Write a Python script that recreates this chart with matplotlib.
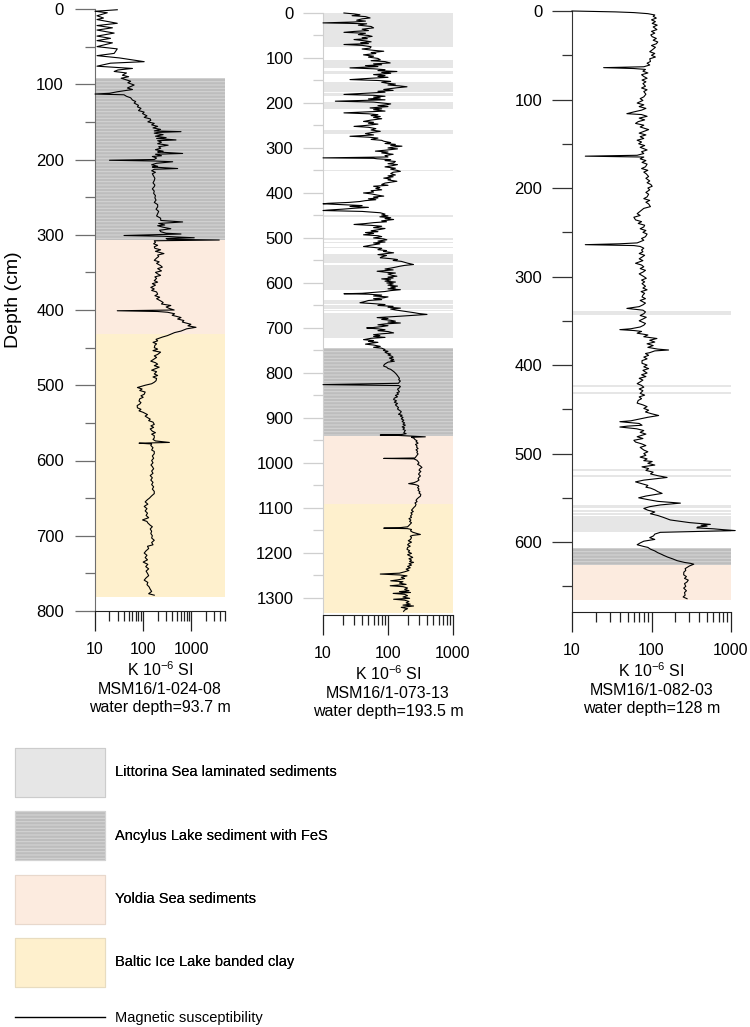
import matplotlib
matplotlib.use("Agg")
import matplotlib.pyplot as plt
from matplotlib.patches import Patch
from matplotlib.lines import Line2D
from matplotlib.ticker import MultipleLocator, LogLocator, NullFormatter, FixedLocator, FixedFormatter

plt.rcParams['font.family'] = ['Liberation Sans', 'DejaVu Sans']
plt.rcParams['mathtext.fontset'] = 'custom'
plt.rcParams['mathtext.rm'] = 'Liberation Sans'
plt.rcParams['mathtext.default'] = 'regular'
plt.rcParams['hatch.linewidth'] = 0.8

# ---- core MSM16/1-024-08: (depth cm, K 10^-6 SI) ----
core_024 = [
    (1, 29), (3, 10), (5, 18), (9, 11), (12, 15), (14, 11), (19, 29), (22, 11), (25, 23),
    (28, 11), (32, 25), (36, 11), (39, 21), (42, 11), (45, 23), (50, 11), (53, 29), (59, 25),
    (62, 11), (65, 32), (70, 105), (72, 21), (76, 11), (79, 60), (81, 30), (83, 25), (85, 45),
    (88, 37), (90, 50), (92, 35), (94, 44), (96, 55), (98, 48), (101, 65), (103, 55), (105, 47),
    (107, 60), (110, 29), (112, 20), (113, 10), (114, 40), (116, 45), (118, 55), (121, 60),
    (123, 70), (125, 65), (128, 80), (130, 76), (132, 90), (135, 80), (137, 105), (139, 97),
    (142, 120), (144, 105), (146, 140), (148, 144), (150, 125), (152, 170), (154, 150),
    (156, 200), (158, 160), (160, 230), (162, 170), (163, 610), (164, 200), (165, 170),
    (167, 260), (169, 180), (171, 300), (172, 190), (174, 480), (175, 200), (177, 240),
    (179, 200), (181, 330), (183, 210), (185, 232), (187, 180), (189, 260), (190, 200),
    (192, 660), (193, 180), (195, 240), (196, 155), (198, 190), (200, 170), (201, 20),
    (202, 170), (203, 410), (205, 190), (207, 150), (209, 200), (210, 155), (212, 520),
    (213, 170), (215, 150), (217, 180), (219, 155), (222, 165), (225, 175), (228, 170),
    (231, 160), (234, 175), (236, 170), (239, 155), (242, 170), (245, 165), (248, 180),
    (251, 175), (254, 185), (257, 170), (260, 200), (263, 200), (266, 185), (269, 210),
    (272, 200), (275, 190), (278, 230), (281, 232), (283, 660), (285, 210), (287, 280),
    (288, 200), (290, 260), (292, 375), (294, 220), (296, 232), (298, 300), (299, 610),
    (301, 40), (302, 270), (303, 500), (304, 1150), (305, 300), (306, 320), (307, 3800),
    (308, 170), (310, 180), (312, 165), (314, 200), (316, 170), (318, 175), (320, 230),
    (322, 180), (325, 270), (327, 200), (329, 210), (331, 190), (334, 170), (336, 215),
    (338, 190), (341, 230), (343, 250), (345, 200), (348, 240), (350, 180), (352, 200),
    (354, 230), (356, 175), (358, 190), (361, 170), (363, 200), (365, 155), (367, 180),
    (370, 144), (372, 170), (374, 150), (376, 190), (379, 200), (381, 175), (383, 220),
    (385, 190), (388, 232), (390, 260), (392, 240), (394, 375), (396, 300), (398, 350),
    (400, 440), (401, 29), (402, 200), (403, 320), (405, 450), (407, 400), (410, 610),
    (412, 520), (414, 700), (416, 650), (419, 980), (421, 850), (423, 1250), (425, 800),
    (428, 610), (430, 450), (432, 380), (434, 320), (436, 250), (439, 185), (441, 200),
    (443, 160), (445, 190), (447, 175), (450, 170), (452, 200), (454, 160), (456, 230),
    (459, 200), (461, 170), (463, 190), (466, 160), (468, 144), (470, 180), (472, 200),
    (474, 170), (476, 215), (478, 180), (480, 150), (482, 190), (485, 170), (487, 200),
    (489, 160), (491, 190), (494, 185), (496, 170), (498, 150), (500, 110), (503, 76),
    (505, 95), (507, 85), (509, 110), (512, 105), (514, 90), (516, 100), (518, 85), (521, 82),
    (523, 90), (525, 85), (527, 75), (530, 76), (532, 90), (534, 82), (536, 100), (539, 123),
    (541, 110), (543, 123), (545, 140), (547, 130), (549, 160), (552, 170), (554, 145),
    (556, 165), (558, 140), (561, 155), (563, 180), (565, 150), (567, 170), (570, 170),
    (572, 160), (574, 180), (576, 350), (577, 82), (578, 150), (580, 144), (583, 160),
    (586, 150), (588, 170), (591, 170), (594, 155), (597, 165), (600, 150), (603, 160),
    (606, 145), (608, 155), (611, 165), (614, 150), (617, 160), (620, 140), (623, 155),
    (626, 144), (629, 160), (632, 150), (635, 165), (638, 155), (641, 170), (644, 170),
    (647, 150), (650, 135), (652, 123), (655, 110), (658, 125), (661, 105), (664, 120),
    (667, 110), (670, 123), (673, 115), (676, 130), (679, 97), (681, 120), (683, 125),
    (686, 140), (688, 155), (691, 140), (694, 150), (697, 144), (700, 155), (703, 150),
    (706, 170), (709, 150), (712, 160), (714, 123), (717, 130), (720, 115), (723, 105),
    (726, 120), (729, 110), (732, 123), (735, 100), (738, 125), (741, 113), (744, 130),
    (747, 115), (750, 123), (753, 130), (756, 115), (759, 105), (762, 125), (765, 120),
    (768, 133), (771, 140), (774, 150), (777, 130), (779, 170),
]
ancylus_024 = [(92, 307)]
yoldia_024 = [(307, 432)]
baltic_024 = [(432, 782)]

# ---- core MSM16/1-073-13 ----
core_073 = [
    (0, 21), (2, 30), (4, 37), (6, 28), (8, 45), (11, 53), (13, 40), (16, 33), (18, 45),
    (20, 30), (22, 10), (23, 25), (24, 47), (27, 35), (30, 55), (33, 60), (36, 40), (39, 50),
    (41, 30), (43, 21), (45, 45), (48, 35), (50, 50), (52, 57), (55, 40), (57, 48), (59, 30),
    (62, 45), (64, 55), (66, 38), (68, 50), (70, 21), (72, 40), (75, 55), (78, 53), (80, 40),
    (83, 60), (85, 86), (88, 55), (90, 65), (93, 42), (96, 60), (98, 50), (101, 70), (104, 76),
    (106, 55), (108, 90), (111, 108), (113, 60), (115, 80), (117, 45), (119, 70), (122, 26),
    (124, 60), (126, 90), (128, 70), (130, 137), (132, 80), (134, 110), (137, 60), (139, 90),
    (141, 70), (143, 100), (145, 55), (148, 26), (150, 70), (152, 110), (154, 80), (156, 96),
    (158, 130), (160, 100), (162, 150), (164, 196), (166, 140), (168, 110), (170, 86),
    (172, 120), (174, 70), (176, 90), (178, 50), (181, 21), (183, 60), (185, 90), (187, 60),
    (189, 76), (191, 50), (193, 90), (196, 15.5), (198, 60), (200, 80), (202, 110), (204, 96),
    (206, 70), (208, 100), (211, 53), (213, 80), (215, 60), (218, 90), (220, 45), (222, 21),
    (224, 50), (226, 70), (228, 55), (230, 76), (232, 60), (235, 80), (238, 55), (241, 42),
    (243, 60), (245, 50), (247, 70), (250, 45), (252, 30), (254, 50), (257, 65), (260, 55),
    (263, 76), (265, 60), (268, 45), (271, 60), (274, 26), (276, 50), (278, 70), (281, 55),
    (283, 80), (285, 86), (288, 110), (290, 90), (292, 130), (294, 110), (296, 164), (298, 120),
    (300, 100), (302, 140), (305, 90), (307, 64), (309, 100), (311, 80), (314, 120), (317, 90),
    (320, 100), (322, 10), (323, 60), (324, 68), (326, 110), (328, 90), (330, 130), (333, 122),
    (335, 100), (337, 140), (340, 110), (342, 90), (345, 130), (347, 110), (350, 140),
    (352, 155), (354, 120), (357, 110), (360, 130), (362, 100), (364, 120), (367, 86),
    (369, 110), (371, 100), (374, 137), (376, 110), (378, 90), (381, 80), (383, 100), (385, 60),
    (388, 75), (390, 65), (393, 80), (395, 55), (398, 60), (400, 42), (402, 55), (405, 70),
    (407, 86), (409, 60), (411, 70), (413, 50), (415, 65), (417, 45), (419, 37), (421, 25),
    (423, 12), (424, 10), (426, 20), (428, 40), (430, 26), (432, 50), (434, 30), (436, 20),
    (438, 12), (439, 10), (441, 40), (443, 60), (444, 76), (447, 90), (449, 80), (451, 100),
    (453, 75), (455, 110), (457, 90), (459, 122), (462, 80), (464, 95), (466, 60), (468, 45),
    (470, 30), (472, 55), (474, 80), (477, 60), (479, 90), (481, 76), (484, 55), (486, 70),
    (488, 45), (490, 60), (493, 42), (495, 70), (497, 80), (500, 60), (502, 85), (504, 96),
    (507, 70), (509, 90), (511, 60), (513, 75), (516, 55), (519, 42), (521, 60), (523, 80),
    (526, 70), (528, 95), (530, 85), (533, 122), (535, 90), (537, 70), (539, 95), (542, 80),
    (544, 76), (546, 110), (548, 140), (550, 120), (552, 160), (554, 180), (556, 200),
    (559, 247), (561, 180), (563, 150), (565, 130), (567, 110), (569, 90), (571, 120),
    (574, 68), (576, 90), (578, 130), (580, 100), (583, 115), (585, 137), (587, 100),
    (589, 120), (591, 80), (593, 110), (596, 90), (598, 130), (600, 96), (602, 120),
    (605, 100), (607, 140), (609, 110), (611, 130), (613, 100), (615, 155), (617, 110),
    (619, 90), (621, 60), (623, 40), (624, 21), (625, 50), (627, 80), (629, 60), (631, 100),
    (633, 86), (635, 60), (637, 80), (639, 50), (641, 45), (644, 37), (646, 60), (648, 90),
    (650, 70), (652, 120), (654, 100), (656, 155), (658, 110), (660, 130), (662, 160),
    (664, 200), (666, 250), (668, 300), (670, 398), (672, 250), (674, 150), (676, 90),
    (677, 68), (679, 100), (681, 80), (683, 110), (685, 130), (687, 100), (689, 155),
    (691, 90), (693, 70), (695, 100), (697, 80), (699, 60), (700, 47), (702, 70), (704, 90),
    (706, 70), (708, 100), (711, 122), (713, 80), (715, 60), (717, 75), (719, 60), (721, 90),
    (723, 55), (726, 42), (728, 60), (730, 50), (732, 70), (734, 55), (736, 45), (738, 60),
    (741, 76), (743, 60), (745, 80), (748, 90), (750, 85), (752, 100), (754, 90), (756, 96),
    (758, 110), (760, 100), (763, 115), (765, 120), (767, 105), (770, 122), (772, 110),
    (774, 125), (776, 100), (778, 95), (780, 90), (783, 86), (785, 86), (787, 95), (790, 100),
    (792, 110), (794, 115), (796, 120), (798, 125), (800, 129), (803, 135), (806, 140),
    (809, 145), (812, 150), (815, 146), (818, 155), (820, 150), (823, 145), (826, 10),
    (828, 146), (830, 155), (833, 150), (836, 140), (839, 145), (842, 150), (844, 137),
    (847, 145), (850, 130), (853, 140), (856, 125), (859, 122), (862, 135), (865, 125),
    (868, 140), (871, 130), (874, 137), (877, 145), (880, 140), (883, 150), (886, 160),
    (889, 155), (892, 145), (894, 165), (896, 155), (899, 170), (902, 160), (905, 175),
    (908, 165), (911, 180), (914, 170), (916, 185), (918, 174), (920, 165), (922, 180),
    (925, 170), (928, 185), (930, 180), (933, 175), (935, 190), (937, 160), (938, 76),
    (939, 150), (940, 200), (942, 375), (943, 230), (945, 250), (948, 260), (951, 280),
    (953, 270), (956, 290), (959, 265), (962, 280), (965, 275), (968, 290), (971, 270),
    (974, 285), (977, 278), (980, 290), (983, 280), (986, 270), (989, 260), (990, 86),
    (991, 250), (994, 278), (997, 290), (1000, 300), (1003, 285), (1006, 310), (1010, 333),
    (1013, 310), (1016, 300), (1019, 320), (1022, 305), (1025, 295), (1029, 315), (1032, 300),
    (1035, 290), (1038, 300), (1041, 280), (1044, 250), (1046, 208), (1048, 260), (1050, 290),
    (1052, 298), (1055, 285), (1058, 300), (1061, 290), (1064, 310), (1067, 300), (1070, 320),
    (1074, 315), (1077, 295), (1080, 280), (1083, 270), (1086, 280), (1089, 260), (1092, 270),
    (1096, 263), (1099, 250), (1102, 240), (1105, 230), (1108, 245), (1111, 225), (1114, 235),
    (1118, 222), (1121, 230), (1124, 210), (1127, 225), (1130, 215), (1133, 230), (1136, 220),
    (1139, 210), (1142, 200), (1144, 150), (1145, 86), (1146, 200), (1148, 230), (1151, 222),
    (1154, 240), (1157, 280), (1159, 315), (1161, 240), (1163, 220), (1166, 230), (1170, 222),
    (1173, 205), (1176, 230), (1179, 210), (1182, 200), (1185, 220), (1188, 200), (1192, 196),
    (1195, 215), (1198, 205), (1201, 230), (1204, 200), (1207, 220), (1210, 240), (1213, 210),
    (1216, 230), (1219, 215), (1221, 247), (1224, 210), (1227, 230), (1230, 200), (1233, 220),
    (1236, 190), (1239, 210), (1242, 180), (1245, 150), (1247, 76), (1249, 150), (1251, 196),
    (1254, 160), (1257, 180), (1260, 140), (1262, 110), (1264, 170), (1267, 150), (1270, 190),
    (1273, 108), (1275, 170), (1278, 200), (1281, 180), (1284, 210), (1286, 150), (1288, 222),
    (1290, 120), (1292, 180), (1295, 200), (1298, 170), (1301, 215), (1303, 122), (1305, 180),
    (1308, 210), (1311, 190), (1314, 220), (1316, 170), (1318, 247), (1321, 160), (1324, 200),
    (1327, 180), (1330, 174),
]
littorina_073 = [(0, 75), (104, 122), (129, 136), (154, 175), (178, 184), (197, 214),
                 (260, 269), (288, 290), (350, 352), (449, 453), (500, 504), (510, 512),
                 (521, 523), (536, 555), (560, 616), (638, 646), (650, 657), (659, 663),
                 (666, 723)]
ancylus_073 = [(744, 941)]
yoldia_073 = [(941, 1091)]
baltic_073 = [(1091, 1333)]

# ---- core MSM16/1-082-03 ----
core_082 = [
    (0, 10), (0.5, 20), (1, 35), (1.8, 60), (3, 90), (4.5, 110), (6, 105), (8, 115), (10, 100),
    (12, 112), (14, 102), (16, 118), (18, 105), (21, 117), (23, 100), (25, 110), (27, 98),
    (29, 102), (31, 115), (33, 105), (35, 120), (37, 115), (39, 100), (41, 112), (44, 102),
    (46, 95), (48, 110), (50, 100), (52, 112), (54, 95), (57, 97), (59, 88), (61, 95), (63, 80),
    (64, 25), (65, 60), (66, 84), (68, 78), (70, 90), (72, 75), (74, 80), (76, 88), (78, 76),
    (80, 85), (82, 78), (85, 84), (87, 75), (89, 88), (91, 80), (94, 85), (97, 80), (99, 72),
    (101, 78), (104, 66), (106, 80), (108, 70), (110, 85), (112, 75), (114, 60), (116, 49),
    (117, 75), (119, 88), (121, 70), (123, 82), (125, 68), (127, 63), (129, 80), (131, 72),
    (134, 92), (136, 80), (138, 70), (140, 85), (142, 72), (144, 80), (146, 66), (148, 75),
    (150, 69), (152, 82), (154, 72), (157, 88), (159, 75), (161, 80), (163, 66), (164, 14.7),
    (165, 80), (167, 72), (169, 85), (171, 76), (173, 88), (176, 84), (178, 75), (180, 90),
    (182, 80), (184, 86), (187, 92), (189, 85), (192, 95), (194, 88), (196, 98), (198, 102),
    (200, 90), (202, 95), (205, 85), (207, 92), (210, 88), (212, 80), (214, 95), (216, 85),
    (218, 92), (221, 97), (223, 80), (225, 75), (227, 70), (229, 66), (231, 72), (233, 60),
    (236, 63), (238, 75), (240, 68), (242, 82), (244, 80), (246, 72), (248, 85), (250, 78),
    (252, 88), (255, 84), (257, 75), (259, 80), (262, 66), (263, 40), (264, 14.7), (265, 60),
    (266, 72), (268, 80), (270, 75), (272, 78), (274, 70), (276, 82), (278, 76), (280, 70),
    (282, 78), (285, 63), (287, 75), (289, 80), (291, 72), (293, 84), (295, 78), (297, 70),
    (300, 80), (302, 86), (304, 75), (306, 82), (308, 76), (311, 84), (313, 78), (315, 88),
    (317, 74), (319, 82), (321, 78), (323, 76), (325, 84), (327, 72), (330, 84), (332, 78),
    (334, 70), (336, 49), (338, 78), (340, 84), (342, 80), (344, 72), (346, 86), (348, 78),
    (350, 70), (353, 84), (355, 80), (357, 72), (359, 55), (360, 40), (361, 60), (362, 75),
    (364, 66), (366, 90), (368, 80), (370, 117), (372, 95), (374, 110), (376, 88), (378, 105),
    (380, 90), (382, 120), (383, 164), (384, 110), (386, 95), (387, 84), (389, 92), (391, 80),
    (393, 88), (395, 76), (398, 76), (400, 88), (402, 80), (404, 92), (406, 78), (409, 88),
    (411, 75), (413, 85), (415, 70), (417, 78), (419, 72), (421, 66), (423, 75), (425, 80),
    (427, 70), (429, 78), (432, 72), (434, 82), (436, 70), (438, 75), (440, 68), (443, 66),
    (445, 78), (447, 88), (449, 80), (451, 92), (453, 84), (455, 100), (457, 123), (459, 90),
    (461, 70), (463, 55), (464, 40), (466, 70), (468, 76), (469, 50), (470, 40), (472, 65),
    (474, 80), (476, 72), (478, 85), (481, 66), (483, 78), (485, 60), (487, 63), (489, 75),
    (491, 85), (493, 72), (496, 80), (498, 90), (500, 80), (502, 85), (504, 72), (506, 88),
    (508, 80), (509, 102), (511, 90), (513, 110), (515, 76), (517, 92), (519, 85), (521, 105),
    (523, 97), (525, 120), (527, 157), (529, 100), (530, 80), (532, 63), (534, 75), (536, 90),
    (538, 85), (539, 97), (541, 110), (543, 120), (545, 136), (547, 100), (548, 85), (550, 69),
    (552, 90), (554, 120), (556, 231), (558, 130), (560, 95), (562, 80), (564, 90), (566, 110),
    (568, 97), (570, 120), (572, 140), (574, 160), (575, 172), (577, 250), (578, 300),
    (579, 400), (580, 550), (581, 420), (582, 500), (583, 380), (584, 372), (585, 600),
    (586, 800), (587, 1130), (588, 400), (589, 129), (591, 110), (593, 106), (595, 95),
    (597, 110), (599, 80), (601, 72), (603, 66), (605, 80), (606, 90), (608, 97), (610, 110),
    (612, 120), (614, 135), (615, 142), (617, 160), (619, 185), (621, 210), (623, 260),
    (624, 308), (625, 340), (627, 300), (630, 265), (632, 270), (634, 255), (637, 254),
    (639, 275), (641, 260), (643, 290), (645, 280), (647, 260), (650, 270), (652, 254),
    (655, 275), (657, 260), (660, 265), (662, 250), (664, 280),
]
littorina_082 = [(339, 343), (423, 425), (431, 433), (518, 520), (524, 527), (558, 562),
                 (564, 566), (567, 569), (571, 589)]
ancylus_082 = [(607, 626)]
yoldia_082 = [(626, 666)]

unit_labels = ['Littorina Sea laminated sediments', 'Ancylus Lake sediment with FeS',
               'Yoldia Sea sediments', 'Baltic Ice Lake banded clay']
line_label = 'Magnetic susceptibility'

col_litt = '#e6e6e6'
col_anc = '#bdbdbd'
col_anc_hatch = '#d3d3d3'
col_yol = '#fcebdf'
col_bal = '#fef0cd'

fig = plt.figure(figsize=(7.5, 10.27), dpi=100)

panels = [
    dict(rect=[95/750, 1-611/1027, 130/750, 602/1027], xlim=(10, 5000), ylim=(800, 0),
         core=core_024, litt=[], anc=ancylus_024, yol=yoldia_024, bal=baltic_024,
         spine='#6e6e6e', pad=8, label='K 10$^{-6}$ SI\nMSM16/1-024-08\nwater depth=93.7 m'),
    dict(rect=[323/750, 1-615/1027, 130/750, 602/1027], xlim=(10, 1000), ylim=(1338, 0),
         core=core_073, litt=littorina_073, anc=ancylus_073, yol=yoldia_073,
         bal=baltic_073, spine='#cfcfcf', pad=7,
         label='K 10$^{-6}$ SI\nMSM16/1-073-13\nwater depth=193.5 m'),
    dict(rect=[572/750, 1-612/1027, 159/750, 601/1027], xlim=(10, 1000), ylim=(679, 0),
         core=core_082, litt=littorina_082, anc=ancylus_082, yol=yoldia_082,
         bal=[], spine='#333333', pad=7,
         label='K 10$^{-6}$ SI\nMSM16/1-082-03\nwater depth=128 m'),
]

axes = []
for p in panels:
    ax = fig.add_axes(p['rect'])
    ax.set_xscale('log')
    ax.set_xlim(*p['xlim'])
    ax.set_ylim(*p['ylim'])
    for a, b in p['litt']:
        ax.axhspan(a, b, facecolor=col_litt, edgecolor='none', lw=0)
    for a, b in p['anc']:
        ax.axhspan(a, b, facecolor=col_anc, edgecolor=col_anc_hatch, hatch='-----', lw=0)
    for a, b in p['yol']:
        ax.axhspan(a, b, facecolor=col_yol, edgecolor='none', lw=0)
    for a, b in p['bal']:
        ax.axhspan(a, b, facecolor=col_bal, edgecolor='none', lw=0)
    depth, k = zip(*p['core'])
    ax.plot(k, depth, color='black', lw=0.8, clip_on=False, zorder=3)

    for s in ('top', 'right'):
        ax.spines[s].set_visible(False)
    ax.spines['left'].set_color(p['spine'])
    ax.spines['bottom'].set_color('#222222')

    ax.xaxis.set_major_locator(FixedLocator([10, 100, 1000]))
    ax.xaxis.set_major_formatter(FixedFormatter(['10', '100', '1000']))
    ax.xaxis.set_minor_locator(LogLocator(base=10, subs=range(2, 10)))
    ax.xaxis.set_minor_formatter(NullFormatter())
    ax.yaxis.set_major_locator(MultipleLocator(100))
    ax.yaxis.set_minor_locator(MultipleLocator(50))

    ax.tick_params(axis='x', which='major', length=14.4, width=0.9, pad=8,
                   labelsize=11.5, color='#222222')
    ax.tick_params(axis='x', which='minor', length=7.2, width=0.9, color='#222222')
    ax.tick_params(axis='y', which='major', length=14.4, width=0.9, pad=p['pad'],
                   labelsize=12, color=p['spine'])
    ax.tick_params(axis='y', which='minor', length=7.2, width=0.9, color=p['spine'])
    ax.set_xlabel(p['label'], fontsize=11.5, linespacing=1.25, labelpad=2)
    ax.set_facecolor('none')
    axes.append(ax)

axes[0].set_ylabel('Depth (cm)', fontsize=14)
axes[0].yaxis.set_label_coords(-0.56, 0.517)

handles = [
    Patch(facecolor=col_litt, edgecolor='#cccccc', lw=0.8),
    Patch(facecolor=col_anc, edgecolor=col_anc_hatch, hatch='-----', lw=0.8),
    Patch(facecolor=col_yol, edgecolor='#e8d8cc', lw=0.8),
    Patch(facecolor=col_bal, edgecolor='#e8dcc0', lw=0.8),
]
leg = fig.legend(handles, unit_labels, loc='upper left', bbox_to_anchor=(15/750, 1-748/1027),
                 frameon=False, fontsize=10.5, handlelength=6.17, handleheight=4.79,
                 labelspacing=0.99, handletextpad=0.69, borderpad=0, borderaxespad=0)
fig.add_artist(leg)
fig.legend([Line2D([], [], color='black', lw=1)], [line_label], loc='center left',
           bbox_to_anchor=(15/750, 1-1018/1027), frameon=False, fontsize=10.5,
           handlelength=6.17, handletextpad=0.69, borderpad=0, borderaxespad=0)

fig.savefig('out.png', dpi=100)
